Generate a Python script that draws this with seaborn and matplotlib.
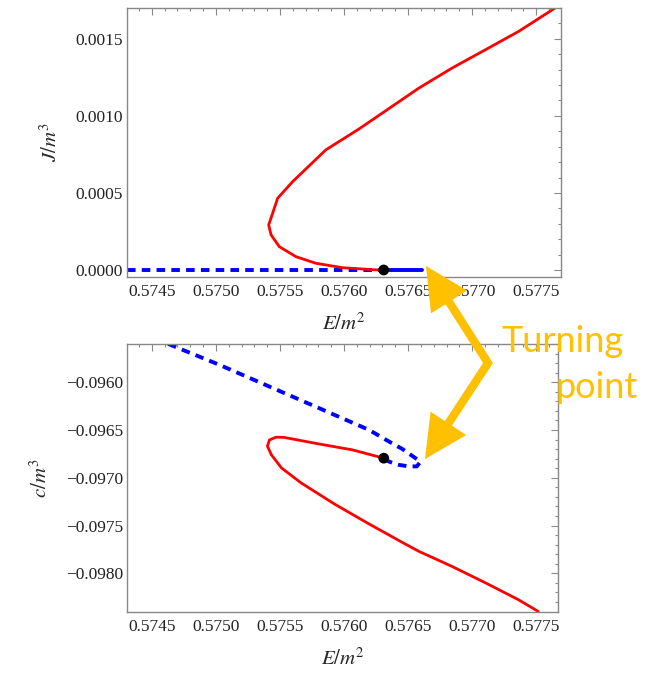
import numpy as np
import pandas as pd
import seaborn as sns
import matplotlib
matplotlib.use("Agg")
import matplotlib.pyplot as plt
from matplotlib.ticker import MultipleLocator, FormatStrFormatter
from matplotlib.patches import FancyArrowPatch
from matplotlib.path import Path

# ---------------- data ----------------
# Top panel: J/m^3 vs E/m^2
red_top_E = [0.576310, 0.576247, 0.575988, 0.575781, 0.575625, 0.575495, 0.575431, 0.575412,
             0.575443, 0.575482, 0.575599, 0.575858, 0.576117, 0.576584, 0.576843,
             0.577103, 0.577362, 0.577647]
red_top_J = [0.0, 0.0000010, 0.0000149, 0.0000435, 0.0000864, 0.0001513, 0.0002273, 0.0002922,
             0.0003682, 0.0004656, 0.0005734, 0.0007793, 0.0009150, 0.0011800, 0.0013100,
             0.0014287, 0.0015475, 0.0016995]
blue_dash_top_E = [0.574306, 0.576310]
blue_dash_top_J = [0.0, 0.0]
blue_solid_top_E = [0.576310, 0.576607]
blue_solid_top_J = [0.0, 0.0]

# Bottom panel: c/m^3 vs E/m^2
red_bot_E = [0.576310, 0.576065, 0.575791, 0.575534, 0.575470, 0.575418, 0.575402, 0.575433,
             0.575511, 0.575664, 0.575923, 0.576180, 0.576454, 0.576584, 0.576841, 0.577103,
             0.577362, 0.577517]
red_bot_c = [-0.096795, -0.096708, -0.096643, -0.096578, -0.096575, -0.096604, -0.096669, -0.096760,
             -0.096896, -0.097053, -0.097273, -0.097472, -0.097676, -0.097770, -0.097927, -0.098099,
             -0.098277, -0.098400]
blue_bot_E = [0.574627, 0.575029, 0.575418, 0.575806, 0.576195, 0.576351, 0.576454, 0.576558,
              0.576597, 0.576568, 0.576506, 0.576428, 0.576351, 0.576310]
blue_bot_c = [-0.095599, -0.095819, -0.096046, -0.096272, -0.096499, -0.096621, -0.096698, -0.096795,
              -0.096831, -0.096881, -0.096881, -0.096865, -0.096831, -0.096795]

dot_E = [0.57631]
dot_J = [0.0]
dot_c = [-0.096795]

x_ticks = [0.5745, 0.5750, 0.5755, 0.5760, 0.5765, 0.5770, 0.5775]
y_ticks_top = [0.0000, 0.0005, 0.0010, 0.0015]
y_ticks_bot = [-0.0960, -0.0965, -0.0970, -0.0975, -0.0980]

annot_text_1 = "Turning"
annot_text_2 = "point"

# ---------------- styling ----------------
sns.set_theme(style="white")
plt.rcParams["font.family"] = ["Liberation Serif", "DejaVu Serif"]
plt.rcParams["mathtext.fontset"] = "stix"

RED = "#ff0000"
BLUE = "#0000ff"
ORANGE = "#ffc000"
W, H = 650, 673

fig = plt.figure(figsize=(6.5, 6.73), dpi=100)
ax1 = fig.add_axes([127 / W, 1 - 277 / H, (561 - 127) / W, (277 - 8) / H])
ax2 = fig.add_axes([127 / W, 1 - 612 / H, (558 - 127) / W, (612 - 344) / H])


def df(x, y):
    return pd.DataFrame({"x": x, "y": y})


DASH = (0, (2.2, 1.6))
common = dict(x="x", y="y", sort=False, estimator=None)

# top panel
sns.lineplot(data=df(blue_dash_top_E, blue_dash_top_J), ax=ax1, color=BLUE, lw=2.8,
             linestyle=DASH, **common)
sns.lineplot(data=df(blue_solid_top_E, blue_solid_top_J), ax=ax1, color=BLUE, lw=2.8,
             **common)
sns.lineplot(data=df(red_top_E, red_top_J), ax=ax1, color=RED, lw=2.0, **common)
sns.scatterplot(data=df(dot_E, dot_J), x="x", y="y", ax=ax1, color="black",
                s=60, edgecolor="none", zorder=5)

# bottom panel
sns.lineplot(data=df(red_bot_E, red_bot_c), ax=ax2, color=RED, lw=2.0, **common)
sns.lineplot(data=df(blue_bot_E, blue_bot_c), ax=ax2, color=BLUE, lw=2.8,
             linestyle=DASH, **common)
sns.scatterplot(data=df(dot_E, dot_c), x="x", y="y", ax=ax2, color="black",
                s=60, edgecolor="none", zorder=5)

for ax, yt, ylim, ylab in [
    (ax1, y_ticks_top, (-0.0000455, 0.0017), r"$J/m^3$"),
    (ax2, y_ticks_bot, (-0.098405, -0.09560), r"$c/m^3$"),
]:
    ax.set_xlim(0.574306, 0.577694 if ax is ax1 else 0.57767)
    ax.set_ylim(*ylim)
    ax.set_xticks(x_ticks)
    ax.set_yticks(yt)
    ax.xaxis.set_minor_locator(MultipleLocator(0.0001))
    ax.yaxis.set_minor_locator(MultipleLocator(0.0001))
    ax.xaxis.set_major_formatter(FormatStrFormatter("%.4f"))
    ax.yaxis.set_major_formatter(FormatStrFormatter("%.4f"))
    ax.tick_params(which="both", direction="in", top=True, right=True,
                   color="#888888", width=0.8, labelsize=12.5, labelcolor="#222222")
    ax.tick_params(which="major", length=5)
    ax.tick_params(axis="y", which="major", pad=3)
    ax.tick_params(axis="x", which="major", pad=5)
    ax.tick_params(which="minor", length=2.5)
    for sp in ax.spines.values():
        sp.set_color("#888888")
        sp.set_linewidth(1.0)
    ax.set_xlabel(r"$E/m^2$", fontsize=15, labelpad=10)
    ax.set_ylabel(ylab, fontsize=15, labelpad=10)
    ax.grid(False)

ax2.yaxis.set_major_formatter(plt.FuncFormatter(lambda v, p: "\u2212%.4f" % abs(v)))

# ---------------- "Turning point" annotation (figure pixel coords) ----------------
def fp(px, py):
    return (px / W, 1 - py / H)

path = Path([fp(426, 266), fp(488, 363), fp(425, 459)],
            [Path.MOVETO, Path.LINETO, Path.LINETO])
arrow = FancyArrowPatch(path=path, transform=fig.transFigure,
                        arrowstyle="<|-|>,head_length=1.5,head_width=0.75",
                        mutation_scale=14, color=ORANGE, lw=6.0,
                        joinstyle="miter", capstyle="butt", zorder=10)
fig.patches.append(arrow)

fig.text(*fp(501, 352), annot_text_1, color=ORANGE, fontsize=26,
         family=["Lato", "DejaVu Sans"], ha="left", va="baseline", zorder=11)
fig.text(*fp(556, 398), annot_text_2, color=ORANGE, fontsize=26,
         family=["Lato", "DejaVu Sans"], ha="left", va="baseline", zorder=11)

fig.savefig("out.png", dpi=100)
